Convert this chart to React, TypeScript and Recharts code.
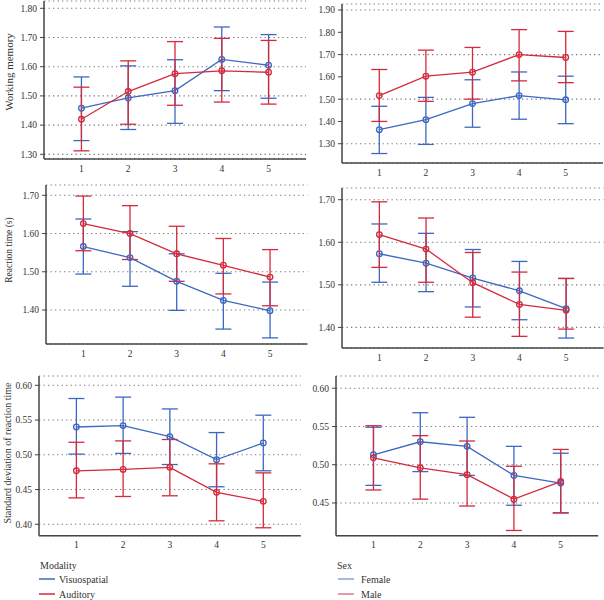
import React from 'react';
import { LineChart, Line, XAxis, YAxis, CartesianGrid, ErrorBar } from 'recharts';

const sessions = [1, 2, 3, 4, 5];

// Working memory — Modality
const wmVisMean = [1.458, 1.493, 1.518, 1.625, 1.605];
const wmVisLow = [1.347, 1.385, 1.406, 1.518, 1.492];
const wmVisHigh = [1.565, 1.603, 1.624, 1.736, 1.71];
const wmAudMean = [1.42, 1.515, 1.576, 1.586, 1.581];
const wmAudLow = [1.312, 1.403, 1.468, 1.479, 1.472];
const wmAudHigh = [1.53, 1.62, 1.686, 1.697, 1.69];

// Working memory — Sex
const wmFemMean = [1.363, 1.408, 1.48, 1.516, 1.497];
const wmFemLow = [1.256, 1.297, 1.374, 1.41, 1.39];
const wmFemHigh = [1.468, 1.508, 1.587, 1.622, 1.603];
const wmMaleMean = [1.516, 1.603, 1.621, 1.7, 1.687];
const wmMaleLow = [1.4, 1.49, 1.5, 1.582, 1.574];
const wmMaleHigh = [1.633, 1.72, 1.732, 1.812, 1.804];

// Reaction time — Modality
const rtVisMean = [1.566, 1.537, 1.475, 1.425, 1.398];
const rtVisLow = [1.494, 1.462, 1.399, 1.35, 1.327];
const rtVisHigh = [1.638, 1.605, 1.547, 1.496, 1.473];
const rtAudMean = [1.626, 1.6, 1.547, 1.517, 1.486];
const rtAudLow = [1.555, 1.532, 1.475, 1.442, 1.411];
const rtAudHigh = [1.698, 1.673, 1.619, 1.587, 1.558];

// Reaction time — Sex
const rtFemMean = [1.573, 1.551, 1.516, 1.486, 1.444];
const rtFemLow = [1.506, 1.484, 1.448, 1.418, 1.375];
const rtFemHigh = [1.643, 1.621, 1.583, 1.555, 1.515];
const rtMaleMean = [1.618, 1.584, 1.505, 1.454, 1.44];
const rtMaleLow = [1.541, 1.506, 1.424, 1.379, 1.396];
const rtMaleHigh = [1.695, 1.657, 1.576, 1.53, 1.515];

// SD of reaction time — Modality
const sdVisMean = [0.54, 0.542, 0.526, 0.493, 0.517];
const sdVisLow = [0.501, 0.502, 0.486, 0.454, 0.477];
const sdVisHigh = [0.581, 0.583, 0.566, 0.532, 0.557];
const sdAudMean = [0.477, 0.479, 0.482, 0.446, 0.433];
const sdAudLow = [0.438, 0.44, 0.441, 0.405, 0.395];
const sdAudHigh = [0.518, 0.52, 0.522, 0.487, 0.474];

// SD of reaction time — Sex
const sdFemMean = [0.513, 0.53, 0.524, 0.486, 0.476];
const sdFemLow = [0.473, 0.491, 0.486, 0.447, 0.437];
const sdFemHigh = [0.549, 0.568, 0.562, 0.524, 0.515];
const sdMaleMean = [0.509, 0.496, 0.487, 0.455, 0.478];
const sdMaleLow = [0.467, 0.455, 0.446, 0.414, 0.437];
const sdMaleHigh = [0.551, 0.538, 0.531, 0.498, 0.52];

const wmModTicks = [1.3, 1.4, 1.5, 1.6, 1.7, 1.8];
const wmSexTicks = [1.3, 1.4, 1.5, 1.6, 1.7, 1.8, 1.9];
const rtTicks = [1.4, 1.5, 1.6, 1.7];
const sdModTicks = [0.4, 0.45, 0.5, 0.55, 0.6];
const sdSexTicks = [0.45, 0.5, 0.55, 0.6];

const BLUE = '#3d68c2';
const RED = '#d42a3b';
const FONT = 'Liberation Serif, DejaVu Serif, serif';

function build(aMean: number[], aLow: number[], aHigh: number[], bMean: number[], bLow: number[], bHigh: number[]) {
  return sessions.map((s, i) => ({
    x: s,
    a: aMean[i],
    aErr: [aMean[i] - aLow[i], aHigh[i] - aMean[i]],
    b: bMean[i],
    bErr: [bMean[i] - bLow[i], bHigh[i] - bMean[i]],
  }));
}

const YW = 40;
const MT = 6;
const MR = 2;
const XH = 20;

type PanelProps = {
  x0: number; x1: number; y0: number; y1: number;
  domain: [number, number];
  ticks: number[];
  data: any[];
};

function Panel({ x0, x1, y0, y1, domain, ticks, data }: PanelProps) {
  const width = x1 - x0 + YW + MR;
  const height = y1 - y0 + MT + XH;
  return (
    <div style={{ position: 'absolute', left: x0 - YW, top: y0 - MT, width, height }}>
      <LineChart width={width} height={height} data={data} margin={{ top: MT, right: MR, bottom: 0, left: 0 }}>
        <CartesianGrid horizontal={true} vertical={false} stroke="#7a7a7a" strokeDasharray="1.3 3.2" strokeWidth={1.1} />
        <XAxis
          dataKey="x"
          type="number"
          domain={[0.2, 5.8]}
          ticks={sessions}
          allowDataOverflow
          height={XH}
          tickLine={false}
          tickSize={4}
          tickMargin={2}
          axisLine={{ stroke: '#444', strokeWidth: 1.5 }}
          tick={{ fontSize: 9.5, fill: '#333', fontFamily: FONT }}
        />
        <YAxis
          type="number"
          domain={domain}
          ticks={ticks}
          allowDataOverflow
          width={YW}
          tickSize={4}
          tickMargin={3}
          tickFormatter={(v: number) => v.toFixed(2)}
          axisLine={{ stroke: '#444', strokeWidth: 1.5 }}
          tickLine={{ stroke: '#444', strokeWidth: 1 }}
          tick={{ fontSize: 9.5, fill: '#333', fontFamily: FONT }}
        />
        <Line
          dataKey="a"
          stroke={BLUE}
          strokeWidth={1.3}
          dot={{ r: 2.8, fill: 'none', stroke: BLUE, strokeWidth: 1.3 }}
          isAnimationActive={false}
        >
          <ErrorBar dataKey="aErr" width={8} stroke={BLUE} strokeWidth={1.3} direction="y" />
        </Line>
        <Line
          dataKey="b"
          stroke={RED}
          strokeWidth={1.3}
          dot={{ r: 2.8, fill: 'none', stroke: RED, strokeWidth: 1.3 }}
          isAnimationActive={false}
        >
          <ErrorBar dataKey="bErr" width={8} stroke={RED} strokeWidth={1.3} direction="y" />
        </Line>
      </LineChart>
    </div>
  );
}

const wmModData = build(wmVisMean, wmVisLow, wmVisHigh, wmAudMean, wmAudLow, wmAudHigh);
const wmSexData = build(wmFemMean, wmFemLow, wmFemHigh, wmMaleMean, wmMaleLow, wmMaleHigh);
const rtModData = build(rtVisMean, rtVisLow, rtVisHigh, rtAudMean, rtAudLow, rtAudHigh);
const rtSexData = build(rtFemMean, rtFemLow, rtFemHigh, rtMaleMean, rtMaleLow, rtMaleHigh);
const sdModData = build(sdVisMean, sdVisLow, sdVisHigh, sdAudMean, sdAudLow, sdAudHigh);
const sdSexData = build(sdFemMean, sdFemLow, sdFemHigh, sdMaleMean, sdMaleLow, sdMaleHigh);

export default function App() {
  return (
    <div style={{ position: 'absolute', left: 0, top: 0, width: 604, height: 600, background: '#fff', overflow: 'hidden', fontFamily: FONT }}>
      <Panel x0={44} x1={306} y0={1} y1={159} domain={[1.284, 1.825]} ticks={wmModTicks} data={wmModData} />
      <Panel x0={342} x1={603} y0={4} y1={163} domain={[1.2135, 1.927]} ticks={wmSexTicks} data={wmSexData} />
      <Panel x0={45.6} x1={307} y0={185} y1={344} domain={[1.311, 1.727]} ticks={rtTicks} data={rtModData} />
      <Panel x0={341.5} x1={603} y0={188.3} y1={348.3} domain={[1.3516, 1.7275]} ticks={rtTicks} data={rtSexData} />
      <Panel x0={39.3} x1={301} y0={376} y1={535.7} domain={[0.3836, 0.6134]} ticks={sdModTicks} data={sdModData} />
      <Panel x0={335.8} x1={598} y0={376} y1={535.7} domain={[0.4072, 0.616]} ticks={sdSexTicks} data={sdSexData} />
      <svg width={604} height={600} style={{ position: 'absolute', left: 0, top: 0, pointerEvents: 'none' }}>
        <g fontFamily={FONT} fill="#333">
          <text transform="translate(9,72) rotate(-90)" textAnchor="middle" dominantBaseline="central" fontSize={11}>Working memory</text>
          <text transform="translate(9,250) rotate(-90)" textAnchor="middle" dominantBaseline="central" fontSize={9.5}>Reaction time (s)</text>
          <text transform="translate(7,453) rotate(-90)" textAnchor="middle" dominantBaseline="central" fontSize={10}>Standard deviation of reaction time</text>
          <text x={40} y={565} fontSize={10} dominantBaseline="central">Modality</text>
          <line x1={39} x2={55} y1={579} y2={579} stroke={BLUE} strokeWidth={1.5} />
          <text x={59} y={579} fontSize={10} dominantBaseline="central">Visuospatial</text>
          <line x1={39} x2={55} y1={594} y2={594} stroke={RED} strokeWidth={1.5} />
          <text x={59} y={594} fontSize={10} dominantBaseline="central">Auditory</text>
          <text x={337} y={565} fontSize={10} dominantBaseline="central">Sex</text>
          <line x1={338} x2={354} y1={579} y2={579} stroke="#86a2da" strokeWidth={1.5} />
          <text x={361} y={579} fontSize={10} dominantBaseline="central">Female</text>
          <line x1={338} x2={354} y1={594} y2={594} stroke="#d97b86" strokeWidth={1.5} />
          <text x={361} y={594} fontSize={10} dominantBaseline="central">Male</text>
        </g>
      </svg>
    </div>
  );
}
